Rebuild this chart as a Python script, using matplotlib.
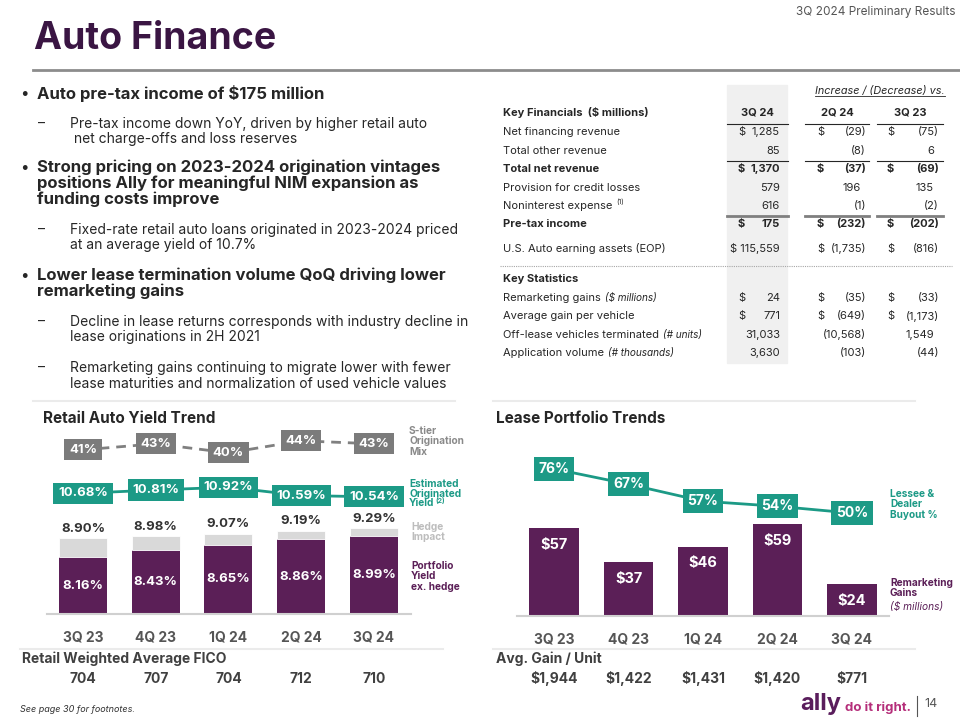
#!/usr/bin/env python3

import numpy as np
import matplotlib
matplotlib.use('Agg')
import matplotlib.pyplot as plt
from matplotlib.patches import Rectangle
from matplotlib.lines import Line2D

plt.rcParams['font.family'] = ['Inter', 'DejaVu Sans']

W, H = 960, 720

PURPLE = '#5B1F57'
TITLE_PURPLE = '#3A1543'
TEAL = '#1C9A86'
BOX_GREY = '#7B7B7B'
HEDGE_GREY = '#D9D9D9'
DARK = '#262626'
MID = '#555555'

quarters = ['3Q 23', '4Q 23', '1Q 24', '2Q 24', '3Q 24']

# retail auto yield trend (%)
yield_ex_hedge = [8.16, 8.43, 8.65, 8.86, 8.99]
yield_total = [8.90, 8.98, 9.07, 9.19, 9.29]
orig_yield = [10.68, 10.81, 10.92, 10.59, 10.54]
s_tier_mix = [41, 43, 40, 44, 43]
fico = ['704', '707', '704', '712', '710']

# lease portfolio trends
remarketing_gains = [57, 37, 46, 59, 24]  # $ millions
buyout_pct = [76, 67, 57, 54, 50]
gain_per_unit = ['$1,944', '$1,422', '$1,431', '$1,420', '$771']

# key financials: label, bold, 3Q24, vs 2Q24, vs 3Q23, dollar sign
fin_rows = [
    ('Net financing revenue', False, '1,285', '(29)', '(75)', True),
    ('Total other revenue', False, '85', '(8)', '6', False),
    ('Total net revenue', True, '1,370', '(37)', '(69)', True),
    ('Provision for credit losses', False, '579', '196', '135', False),
    ('Noninterest expense', False, '616', '(1)', '(2)', False),
    ('Pre-tax income', True, '175', '(232)', '(202)', True),
    ('U.S. Auto earning assets (EOP)', False, '115,559', '(1,735)', '(816)', True),
]
fin_y = [132, 151, 169, 188, 206, 224, 249]

stat_rows = [
    ('Remarketing gains', '($ millions)', '24', '(35)', '(33)', True),
    ('Average gain per vehicle', '', '771', '(649)', '(1,173)', True),
    ('Off-lease vehicles terminated', '(# units)', '31,033', '(10,568)', '1,549', False),
    ('Application volume', '(# thousands)', '3,630', '(103)', '(44)', False),
]
stat_y = [298, 316, 335, 353]

bullets = [
    ('b', 93, ['Auto pre-tax income of $175 million']),
    ('d', 124, ['Pre-tax income down YoY, driven by higher retail auto',
                ' net charge-offs and loss reserves']),
    ('b', 167, ['Strong pricing on 2023-2024 origination vintages',
                'positions Ally for meaningful NIM expansion as',
                'funding costs improve']),
    ('d', 230, ['Fixed-rate retail auto loans originated in 2023-2024 priced',
                'at an average yield of 10.7%']),
    ('b', 275, ['Lower lease termination volume QoQ driving lower',
                'remarketing gains']),
    ('d', 322, ['Decline in lease returns corresponds with industry decline in',
                'lease originations in 2H 2021']),
    ('d', 368, ['Remarketing gains continuing to migrate lower with fewer',
                'lease maturities and normalization of used vehicle values']),
]

fig = plt.figure(figsize=(W / 100, H / 100), dpi=100)
renderer = fig.canvas.get_renderer()


def ftext(x, y, s, **kw):
    kw.setdefault('va', 'center')
    return fig.text(x / W, 1 - y / H, s, **kw)


def fline(x0, x1, y, **kw):
    fig.add_artist(Line2D([x0 / W, x1 / W], [1 - y / H, 1 - y / H],
                          transform=fig.transFigure, **kw))


def right_edge(t):
    bb = t.get_window_extent(renderer=renderer)
    return bb.x1


# header
ftext(955, 12, '3Q 2024 Preliminary Results', ha='right', fontsize=8.5, color=MID)
ftext(34, 39, 'Auto Finance', fontsize=27, fontweight='bold', color=TITLE_PURPLE)
fline(33, 960, 70, color='#8C8C8C', lw=2)

# bullets
for kind, y0, lines in bullets:
    if kind == 'b':
        ftext(20, y0, '\u2022', fontsize=11, color=DARK)
        for i, s in enumerate(lines):
            ftext(37, y0 + i * 16, s, fontsize=12, fontweight='bold', color=DARK)
    else:
        ftext(38, y0, '\u2013', fontsize=10, color=DARK)
        for i, s in enumerate(lines):
            ftext(70, y0 + i * 15.5, s, fontsize=10, color=DARK)

# key financials table
fig.add_artist(Rectangle((727 / W, 1 - 363 / H), 60 / W, 278 / H,
                         transform=fig.transFigure, color='#F0F0F0', zorder=0))
t = ftext(815, 91, 'Increase / (Decrease) vs.', fontsize=7.8, style='italic', color=DARK)
fline(815, right_edge(t), 96, color=DARK, lw=0.6)
ftext(503, 112, 'Key Financials  ($ millions)', fontsize=8, fontweight='bold', color=DARK)
for xc, s in [(757, '3Q 24'), (837, '2Q 24'), (910, '3Q 23')]:
    ftext(xc, 112, s, ha='center', fontsize=8, fontweight='bold', color=DARK)

segs = [(727, 788), (805, 869), (877, 943)]
for y, lw, col in [(124, 0.8, DARK), (161, 0.8, DARK), (216, 2.0, '#7F7F7F')]:
    for a, b in segs:
        fline(a, b, y, color=col, lw=lw)

dollar_x = [738, 817, 887]
value_x = [780, 866, 939]


def table_values(y, vals, dollar, weight):
    for j, v in enumerate(vals):
        xr = value_x[j] if v.startswith('(') or j == 0 else value_x[j] - 5
        if dollar and j == 0 and len(v) > 5:
            # long values carry their dollar sign tight against them
            ftext(xr, y, '$ ' + v, ha='right', fontsize=8, fontweight=weight, color=DARK)
            continue
        ftext(xr, y, v, ha='right', fontsize=8, fontweight=weight, color=DARK)
        if dollar:
            ftext(dollar_x[j], y, '$', fontsize=8, fontweight=weight, color=DARK)


for (label, bold, v1, v2, v3, dollar), y in zip(fin_rows, fin_y):
    weight = 'bold' if bold else 'normal'
    t = ftext(503, y, label, fontsize=8, fontweight=weight, color=DARK)
    if label.startswith('Noninterest'):
        fig.text(right_edge(t) / W + 4 / W, 1 - (y - 4) / H, '(1)', fontsize=5,
                 va='center', color=DARK)
    table_values(y, [v1, v2, v3], dollar, weight)

fline(500, 952, 266, color='#A6A6A6', lw=0.8, ls=(0, (1, 1)))
ftext(503, 279, 'Key Statistics', fontsize=8, fontweight='bold', color=DARK)
for (label, unit, v1, v2, v3, dollar), y in zip(stat_rows, stat_y):
    t = ftext(503, y, label, fontsize=8, color=DARK)
    if unit:
        fig.text(right_edge(t) / W + 4 / W, 1 - y / H, unit, fontsize=7.2,
                 style='italic', va='center', color=DARK)
    table_values(y, [v1, v2, v3], dollar, 'normal')

# section rules
fline(33, 455, 401, color='#EBEBEB', lw=1.5)
fline(493, 915, 401, color='#EBEBEB', lw=1.5)
fline(20, 443, 649, color='#EBEBEB', lw=1.5)
fline(493, 915, 649, color='#EBEBEB', lw=1.5)

x = np.arange(len(quarters))


def style_axes(ax):
    for side in ['top', 'right', 'left']:
        ax.spines[side].set_visible(False)
    ax.spines['bottom'].set_color('#D0D0D0')
    ax.spines['bottom'].set_linewidth(1.5)
    ax.set_yticks([])
    ax.tick_params(axis='x', length=0, pad=12)
    ax.set_xticks(x)
    ax.set_xticklabels(quarters, fontsize=10, fontweight='bold', color=MID)


def hide_twin(ax):
    for side in ax.spines:
        ax.spines[side].set_visible(False)
    ax.set_yticks([])


def boxed(ax, xs, ys, labels, color, fs):
    for xi, yi, s in zip(xs, ys, labels):
        ax.text(xi, yi, s, ha='center', va='center', fontsize=fs, fontweight='bold',
                color='white', zorder=5,
                bbox=dict(boxstyle='square,pad=0.35', fc=color, ec='none'))


# ---- Retail Auto Yield Trend ----
ftext(43, 418, 'Retail Auto Yield Trend', fontsize=11, fontweight='bold', color=DARK)
ax1 = fig.add_axes([47 / W, 1 - 614 / H, 364 / W, 184 / H])
ax1.set_xlim(-0.495, 4.509)
ax1.set_ylim(5.91, 13.18)
style_axes(ax1)
hedge = [tt - e for tt, e in zip(yield_total, yield_ex_hedge)]
ax1.bar(x, yield_ex_hedge, width=0.66, color=PURPLE, zorder=2)
ax1.bar(x, hedge, bottom=yield_ex_hedge, width=0.66, color=HEDGE_GREY, zorder=2,
        edgecolor='white', linewidth=0.6)
ybot = ax1.get_ylim()[0]
for xi, e, tt in zip(x, yield_ex_hedge, yield_total):
    ax1.text(xi, (ybot + e) / 2, '{:.2f}%'.format(e), ha='center', va='center',
             fontsize=9.5, fontweight='bold', color='white', zorder=3)
    ax1.annotate('{:.2f}%'.format(tt), (xi, tt), xytext=(0, 7), textcoords='offset points',
                 ha='center', va='center', fontsize=9.5, fontweight='bold', color='#333333')
ax1.plot(x, orig_yield, color=TEAL, lw=2, zorder=4)
boxed(ax1, x, orig_yield, ['{:.2f}%'.format(v) for v in orig_yield], TEAL, 9.5)

ax1b = ax1.twinx()
ax1b.set_ylim(-13.7, 47.6)
hide_twin(ax1b)
ax1b.plot(x, s_tier_mix, color='#808080', lw=2, ls=(0, (3.5, 2.5)), zorder=4)
boxed(ax1b, x, s_tier_mix, ['{}%'.format(v) for v in s_tier_mix], BOX_GREY, 9.5)

lab = dict(fontsize=7.3, fontweight='bold', va='top', linespacing=1.05)
ftext(409, 426, 'S-tier\nOrigination\nMix', color='#8A8A8A', **lab)
ftext(409, 479, 'Estimated\nOriginated', color=TEAL, **lab)
t = ftext(409, 503, 'Yield', color=TEAL, fontsize=7.3, fontweight='bold')
fig.text(right_edge(t) / W + 1 / W, 1 - 501 / H, '(2)', fontsize=5, color=TEAL,
         va='center', fontweight='bold')
ftext(411, 522, 'Hedge\nImpact', color='#BDBDBD', **lab)
ftext(411, 561, 'Portfolio\nYield\nex. hedge', color=PURPLE, **lab)

ftext(22, 659, 'Retail Weighted Average FICO', fontsize=10, fontweight='bold', color='#404040')
for xi, s in zip(x, fico):
    ax1.text(xi, -(679 - 614) / 184, s, transform=ax1.get_xaxis_transform(),
             ha='center', va='center', fontsize=10, fontweight='bold', color='#404040')

# ---- Lease Portfolio Trends ----
ftext(496, 418, 'Lease Portfolio Trends', fontsize=11, fontweight='bold', color=DARK)
ax2 = fig.add_axes([517 / W, 1 - 616 / H, 372 / W, 166 / H])
ax2.set_xlim(-0.497, 4.497)
ax2.set_ylim(5.2, 102.8)
style_axes(ax2)
ax2.bar(x, remarketing_gains, width=0.67, color=PURPLE, zorder=2)
for xi, v in zip(x, remarketing_gains):
    ax2.annotate('${}'.format(v), (xi, v), xytext=(0, -12), textcoords='offset points',
                 ha='center', va='center', fontsize=10.5, fontweight='bold', color='white')

ax2b = ax2.twinx()
ax2b.set_ylim(-10.5, 87.1)
hide_twin(ax2b)
ax2b.plot(x, buyout_pct, color=TEAL, lw=2, zorder=4)
boxed(ax2b, x, buyout_pct, ['{}%'.format(v) for v in buyout_pct], TEAL, 10)

ftext(890, 489, 'Lessee &\nDealer\nBuyout %', color=TEAL, **lab)
ftext(890, 578, 'Remarketing\nGains', color=PURPLE, **lab)
ftext(890, 607, '($ millions)', color=PURPLE, fontsize=7.3, style='italic')

ftext(496, 659, 'Avg. Gain / Unit', fontsize=10, fontweight='bold', color='#404040')
for xi, s in zip(x, gain_per_unit):
    ax2.text(xi, -(679 - 616) / 166, s, transform=ax2.get_xaxis_transform(),
             ha='center', va='center', fontsize=10, fontweight='bold', color='#404040')

# footer
ftext(20, 709, 'See page 30 for footnotes.', fontsize=6.5, style='italic', color='#333333')
t = ftext(800, 704, 'ally', fontsize=17, fontweight='bold', color='#5A1D5C')
fig.text(right_edge(t) / W + 4 / W, 1 - 708 / H, 'do it right.', fontsize=9.5,
         fontweight='bold', color='#B52E7A', va='center')
fig.add_artist(Line2D([917 / W, 917 / W], [1 - 696 / H, 1 - 716 / H],
                      transform=fig.transFigure, color='#555555', lw=0.8))
ftext(924, 704, '14', fontsize=9, color=MID)

fig.savefig('out.png', dpi=100)
